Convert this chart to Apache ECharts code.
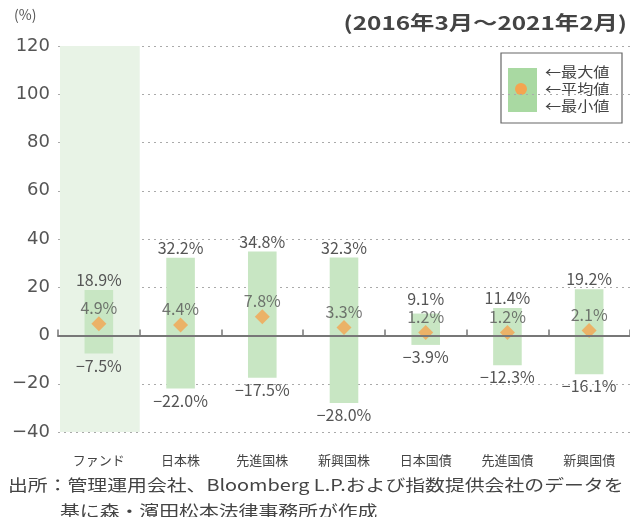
<!DOCTYPE html>
<html>
<head>
<meta charset="utf-8">
<script src="https://cdn.jsdelivr.net/npm/echarts@6/dist/echarts.min.js"></script>
<style>
  html, body { margin: 0; padding: 0; background: #fff; }
  #chart { width: 630px; height: 517px; }
</style>
</head>
<body>
<div id="chart"></div>
<script>
var categories = ["ファンド", "日本株", "先進国株", "新興国株", "日本国債", "先進国債", "新興国債"];
var maxValues = [18.9, 32.2, 34.8, 32.3, 9.1, 11.4, 19.2];
var avgValues = [4.9, 4.4, 7.8, 3.3, 1.2, 1.2, 2.1];
var minValues = [-7.5, -22.0, -17.5, -28.0, -3.9, -12.3, -16.1];
var highlighted = ["ファンド"];
var yTicks = [-40, -20, 0, 20, 40, 60, 80, 100, 120];

var font = '"Noto Sans CJK JP", "Noto Sans", sans-serif';
var textColor = "#555";

var chart = echarts.init(document.getElementById("chart"));

function fmt(v) {
  return (v < 0 ? "\u2212" : "") + Math.abs(v).toFixed(1) + "%";
}

var rangeData = categories.map(function (c, i) {
  return [i, minValues[i], maxValues[i], avgValues[i]];
});
var bandData = highlighted.map(function (c) {
  return [categories.indexOf(c), yTicks[0], yTicks[yTicks.length - 1]];
});

var option = {
  animation: false,
  grid: { left: 58, right: 0, top: 46, bottom: 85 },
  xAxis: [
    {
      type: "category",
      data: categories,
      axisLine: { onZero: true, lineStyle: { color: "#777", width: 2 } },
      axisTick: { show: true, inside: true, length: 6, lineStyle: { color: "#777", width: 1.5 } },
      axisLabel: { show: false },
      splitLine: { show: false },
      z: 5
    },
    {
      type: "category",
      data: categories,
      position: "bottom",
      axisLine: { show: false },
      axisTick: { show: false },
      axisLabel: { color: "#444", fontSize: 13, fontFamily: font, margin: 22 }
    }
  ],
  yAxis: {
    type: "value",
    min: yTicks[0],
    max: yTicks[yTicks.length - 1],
    interval: 20,
    axisLine: { show: false },
    axisTick: { show: false },
    axisLabel: {
      color: textColor, fontSize: 18, fontFamily: '"DejaVu Sans", sans-serif', margin: 8,
      formatter: function (v) { return (v < 0 ? "\u2212" : "") + Math.abs(v); }
    },
    splitLine: { lineStyle: { color: "#aaa", type: [2, 4], width: 1 } }
  },
  series: [
    {
      type: "custom",
      name: "band",
      data: bandData,
      z: 1,
      renderItem: function (params, api) {
        var top = api.coord([api.value(0), api.value(2)]);
        var bot = api.coord([api.value(0), api.value(1)]);
        var w = api.size([1, 0])[0] - 2;
        return {
          type: "rect",
          shape: { x: top[0] - w / 2 + 1, y: top[1], width: w, height: bot[1] - top[1] },
          style: { fill: "#e8f3e6" }
        };
      }
    },
    {
      type: "custom",
      name: "range",
      data: rangeData,
      z: 2,
      renderItem: function (params, api) {
        var top = api.coord([api.value(0), api.value(2)]);
        var bot = api.coord([api.value(0), api.value(1)]);
        var avg = api.coord([api.value(0), api.value(3)]);
        var w = api.size([1, 0])[0] * 0.35;
        // keep the max label clear of the average label above the diamond
        var avgLabelTop = avg[1] - 8 - 18;
        var maxY = Math.min(top[1] - 2, avgLabelTop);
        var lbl = { fill: textColor, fontSize: 16, fontFamily: font, align: "center" };
        return {
          type: "group",
          children: [
            {
              type: "rect",
              shape: { x: top[0] - w / 2, y: top[1], width: w, height: bot[1] - top[1] },
              style: { fill: "#c8e6c3" }
            },
            {
              type: "text",
              x: top[0], y: maxY,
              style: Object.assign({ text: fmt(api.value(2)), verticalAlign: "bottom" }, lbl)
            },
            {
              type: "text",
              x: bot[0], y: bot[1] + 4,
              style: Object.assign({ text: fmt(api.value(1)), verticalAlign: "top" }, lbl)
            }
          ]
        };
      }
    },
    {
      type: "scatter",
      name: "平均値",
      data: avgValues,
      symbol: "diamond",
      symbolSize: [15, 15],
      itemStyle: { color: "#f4a550" },
      z: 4,
      label: {
        show: true,
        position: "top",
        distance: 0,
        color: textColor,
        fontSize: 16,
        fontFamily: font,
        formatter: function (p) { return fmt(p.value); }
      }
    }
  ],
  graphic: [
    { type: "text", x: 14, y: 8, style: { text: "(%)", fill: textColor, fontSize: 14, fontFamily: font } },
    {
      type: "text", x: 627, y: 23, scaleX: 1.28,
      style: { text: "(2016年3月～2021年2月)", fill: "#444", fontSize: 19, fontWeight: "bold", fontFamily: font, align: "right", verticalAlign: "middle" }
    },
    {
      type: "group", x: 501, y: 53,
      children: [
        { type: "rect", shape: { x: 0, y: 0, width: 121, height: 70 }, style: { fill: "#fff", stroke: "#666", lineWidth: 1.2 } },
        { type: "rect", shape: { x: 7, y: 15, width: 29, height: 44 }, style: { fill: "#a9d9a2" } },
        { type: "circle", shape: { cx: 20, cy: 36, r: 6 }, style: { fill: "#f4a550" } },
        { type: "text", x: 44, y: 19, scaleX: 1.15, style: { text: "←最大値", fill: "#444", fontSize: 14, fontFamily: font, verticalAlign: "middle" } },
        { type: "text", x: 44, y: 36, scaleX: 1.15, style: { text: "←平均値", fill: "#444", fontSize: 14, fontFamily: font, verticalAlign: "middle" } },
        { type: "text", x: 44, y: 53, scaleX: 1.15, style: { text: "←最小値", fill: "#444", fontSize: 14, fontFamily: font, verticalAlign: "middle" } }
      ]
    },
    {
      type: "text", x: 8, y: 485, scaleX: 1.24,
      style: { text: "出所：管理運用会社、Bloomberg L.P.および指数提供会社のデータを", fill: "#444", fontSize: 16, fontFamily: font, verticalAlign: "middle" }
    },
    {
      type: "text", x: 60, y: 511, scaleX: 1.24,
      style: { text: "基に森・濱田松本法律事務所が作成", fill: "#444", fontSize: 16, fontFamily: font, verticalAlign: "middle" }
    }
  ]
};

chart.setOption(option);
</script>
</body>
</html>
